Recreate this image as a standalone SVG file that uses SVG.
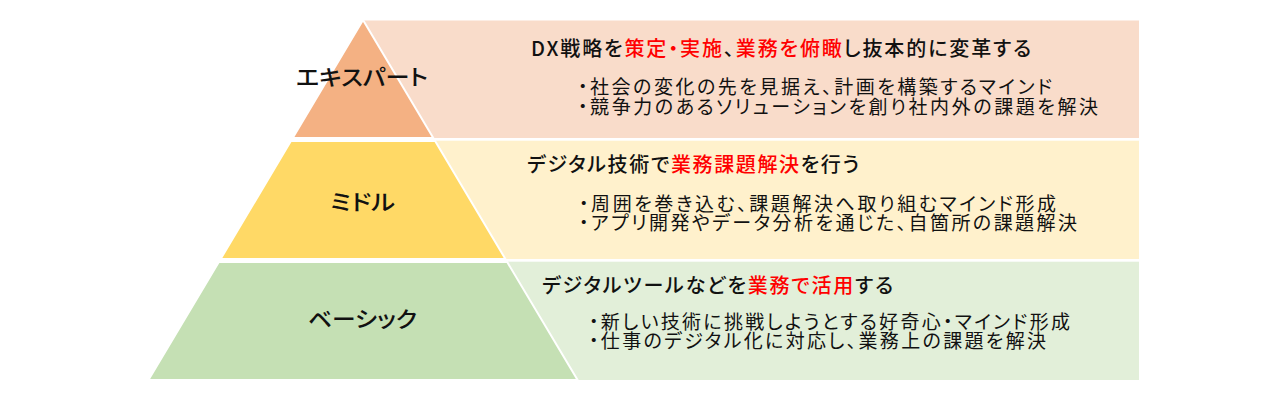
<svg xmlns="http://www.w3.org/2000/svg" width="1280" height="400" viewBox="0 0 1280 400">
<style>
text{font-family:"Noto Sans CJK JP","Noto Sans",sans-serif;fill:#111;font-feature-settings:"palt"}
.tier{stroke:#fff;stroke-width:2}
.lbl{font-size:22px;text-anchor:middle;font-weight:500}
.hd{font-size:20px;font-weight:500}
.bl{font-size:19px}
.red{fill:#F00}
</style>
<rect width="1280" height="400" fill="#fff"/>
<g id="expert">
<rect x="363" y="20.5" width="776" height="117.5" fill="#F9DCCA"/>
<polygon class="tier" points="363,20 292.7,138 433.3,138" fill="#F4B183"/>
<text class="lbl" x="362" y="85" textLength="132" lengthAdjust="spacingAndGlyphs">エキスパート</text>
<text class="hd" x="531" y="56" textLength="500" lengthAdjust="spacing">DX戦略を<tspan class="red">策定・実施</tspan>、<tspan class="red">業務を俯瞰</tspan>し抜本的に変革する</text>
<text class="bl" x="578" y="94" textLength="474" lengthAdjust="spacing">・社会の変化の先を見据え、計画を構築するマインド</text>
<text class="bl" x="578" y="113.5" textLength="520" lengthAdjust="spacing">・競争力のあるソリューションを創り社内外の課題を解決</text>
</g>
<g id="middle">
<rect x="363" y="140.7" width="776" height="118.3" fill="#FFF1CC"/>
<polygon class="tier" points="290.9,141 435.1,141 505.4,259 220.6,259" fill="#FFD966"/>
<text class="lbl" x="362.5" y="210" textLength="65" lengthAdjust="spacingAndGlyphs">ミドル</text>
<text class="hd" x="527" y="171.5" textLength="332" lengthAdjust="spacing">デジタル技術で<tspan class="red">業務課題解決</tspan>を行う</text>
<text class="bl" x="579" y="210.5" textLength="477" lengthAdjust="spacing">・周囲を巻き込む、課題解決へ取り組むマインド形成</text>
<text class="bl" x="579" y="230" textLength="498" lengthAdjust="spacing">・アプリ開発やデータ分析を通じた、自箇所の課題解決</text>
</g>
<g id="basic">
<rect x="363" y="261.7" width="776" height="118.3" fill="#E2EFD9"/>
<polygon class="tier" points="218.8,262 507.2,262 577.6,380 148.4,380" fill="#C5E0B4"/>
<text class="lbl" x="362.5" y="327" textLength="109" lengthAdjust="spacingAndGlyphs">ベーシック</text>
<text class="hd" x="542" y="293" textLength="351" lengthAdjust="spacing">デジタルツールなどを<tspan class="red">業務で活用</tspan>する</text>
<text class="bl" x="589" y="328.5" textLength="481" lengthAdjust="spacing">・新しい技術に挑戦しようとする好奇心・マインド形成</text>
<text class="bl" x="589" y="348" textLength="457" lengthAdjust="spacing">・仕事のデジタル化に対応し、業務上の課題を解決</text>
</g>
</svg>
